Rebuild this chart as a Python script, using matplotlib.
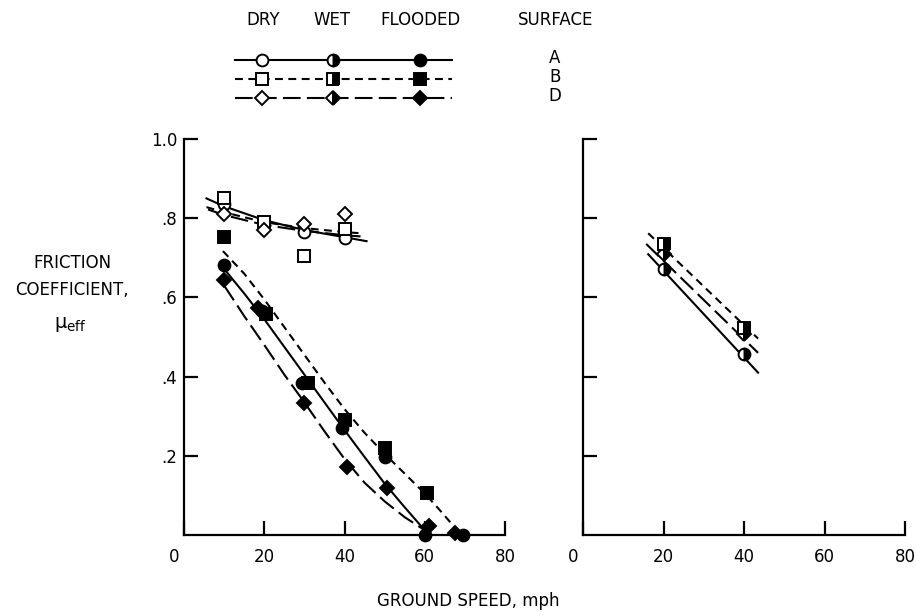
import matplotlib
matplotlib.use("Agg")
import matplotlib.pyplot as plt
from matplotlib.lines import Line2D
from matplotlib.transforms import ScaledTranslation

plt.rcParams["font.family"] = ["DejaVu Sans"]
plt.rcParams["mathtext.fontset"] = "dejavusans"

# --- measured points: speed (mph) and effective friction coefficient ---
speed_dry = [10, 20, 30, 40]
mu_dry_A = [0.835, 0.79, 0.765, 0.75]
mu_dry_B = [0.85, 0.79, 0.705, 0.772]
mu_dry_D = [0.81, 0.77, 0.785, 0.81]

speed_fl_A = [10, 19.5, 29.5, 39.5, 50, 60, 69.5]
mu_fl_A = [0.683, 0.565, 0.385, 0.27, 0.197, 0.0, 0.0]
speed_fl_B = [10, 20.5, 31, 40, 50, 60.5]
mu_fl_B = [0.752, 0.558, 0.383, 0.29, 0.22, 0.105]
speed_fl_D = [10, 18.5, 30, 40.5, 50.5, 61, 67.5]
mu_fl_D = [0.644, 0.572, 0.334, 0.172, 0.118, 0.022, 0.004]

speed_wet = [20, 40]
mu_wet_A = [0.672, 0.458]
mu_wet_B = [0.735, 0.523]
mu_wet_D = [0.71, 0.508]

# --- faired curves ---
fit_dry_A_v = [5.6, 10, 20, 30, 40, 45.5]
fit_dry_A = [0.85, 0.83, 0.795, 0.77, 0.752, 0.742]
fit_dry_B_v = [5.6, 10, 20, 30, 40, 44]
fit_dry_B = [0.828, 0.815, 0.79, 0.775, 0.765, 0.762]
fit_dry_D_v = [6, 10, 20, 30, 40, 44]
fit_dry_D = [0.822, 0.808, 0.783, 0.768, 0.757, 0.754]

fit_fl_A_v = [10, 15, 20, 25, 30, 35, 40, 45, 50, 55, 60]
fit_fl_A = [0.672, 0.61, 0.545, 0.475, 0.405, 0.335, 0.265, 0.197, 0.13, 0.07, 0.012]
fit_fl_B_v = [9.7, 15, 20, 25, 30, 35, 40, 45, 50, 55, 60, 64, 68]
fit_fl_B = [0.717, 0.66, 0.595, 0.525, 0.455, 0.385, 0.318, 0.258, 0.205, 0.155,
            0.105, 0.06, 0.013]
fit_fl_D_v = [10, 15, 20, 25, 30, 35, 40, 45, 50, 55, 60]
fit_fl_D = [0.63, 0.553, 0.48, 0.405, 0.335, 0.262, 0.192, 0.132, 0.085, 0.045, 0.012]

fit_wet_A_v = [16.2, 43.5]
fit_wet_A = [0.709, 0.41]
fit_wet_B_v = [16.2, 43.5]
fit_wet_B = [0.762, 0.496]
fit_wet_D_v = [15.7, 43.5]
fit_wet_D = [0.735, 0.46]

x_ticks = [0, 20, 40, 60, 80]
y_ticks = [0.2, 0.4, 0.6, 0.8, 1.0]
y_tick_labels = [".2", ".4", ".6", ".8", "1.0"]

# --- styles per surface ---
LW = 1.5
SHORT = (0, (3.8, 2.6))
LONG = (0, (8.5, 3.0))
surf_style = {"A": ("-", "o", 8.5), "B": (SHORT, "s", 8), "D": (LONG, "D", 7.5)}


def marker_kw(cond, size):
    kw = dict(markersize=size, markeredgecolor="k", markeredgewidth=1.4)
    if cond == "dry":
        kw.update(markerfacecolor="white")
    elif cond == "flooded":
        kw.update(markerfacecolor="k")
    else:
        kw.update(markerfacecolor="k", fillstyle="right", markerfacecoloralt="white")
    return kw


def curve(ax, v, mu, surf):
    ax.plot(v, mu, color="k", lw=LW, linestyle=surf_style[surf][0], zorder=2)


def points(ax, v, mu, surf, cond):
    mk, size = surf_style[surf][1], surf_style[surf][2]
    ax.plot(v, mu, linestyle="none", marker=mk, clip_on=False, zorder=3,
            **marker_kw(cond, size))


def style_axes(ax, labels):
    ax.set_xlim(0, 80)
    ax.set_ylim(0, 1.0)
    for s in ("top", "right"):
        ax.spines[s].set_visible(False)
    for s in ("left", "bottom"):
        ax.spines[s].set_linewidth(1.6)
    ax.set_xticks(x_ticks)
    ax.set_xticklabels([str(t) for t in x_ticks])
    ax.set_yticks(y_ticks)
    ax.set_yticklabels(y_tick_labels if labels else [])
    ax.tick_params(direction="in", length=10, width=1.6, labelsize=12)
    ax.tick_params(axis="x", pad=9)
    ax.tick_params(axis="y", pad=5)
    lab0 = ax.get_xticklabels()[0]
    lab0.set_transform(lab0.get_transform() +
                       ScaledTranslation(-0.1, 0, ax.figure.dpi_scale_trans))


fig = plt.figure(figsize=(9.16, 6.15), dpi=100)
ax1 = fig.add_axes([184 / 916, 80 / 615, 321 / 916, 396 / 615])
ax2 = fig.add_axes([583 / 916, 80 / 615, 322 / 916, 396 / 615])

# left panel: dry and flooded
curve(ax1, fit_dry_A_v, fit_dry_A, "A")
curve(ax1, fit_dry_B_v, fit_dry_B, "B")
curve(ax1, fit_dry_D_v, fit_dry_D, "D")
curve(ax1, fit_fl_A_v, fit_fl_A, "A")
curve(ax1, fit_fl_B_v, fit_fl_B, "B")
curve(ax1, fit_fl_D_v, fit_fl_D, "D")
points(ax1, speed_dry, mu_dry_A, "A", "dry")
points(ax1, speed_dry, mu_dry_B, "B", "dry")
points(ax1, speed_dry, mu_dry_D, "D", "dry")
points(ax1, speed_fl_D, mu_fl_D, "D", "flooded")
points(ax1, speed_fl_B, mu_fl_B, "B", "flooded")
points(ax1, speed_fl_A, mu_fl_A, "A", "flooded")
style_axes(ax1, True)

# right panel: wet
curve(ax2, fit_wet_A_v, fit_wet_A, "A")
curve(ax2, fit_wet_B_v, fit_wet_B, "B")
curve(ax2, fit_wet_D_v, fit_wet_D, "D")
points(ax2, speed_wet, mu_wet_A, "A", "wet")
points(ax2, speed_wet, mu_wet_D, "D", "wet")
points(ax2, speed_wet, mu_wet_B, "B", "wet")
style_axes(ax2, False)

# y label block and x label
fig.text(72 / 916, 1 - 263 / 615, "FRICTION", ha="center", va="center", fontsize=12)
fig.text(72 / 916, 1 - 290 / 615, "COEFFICIENT,", ha="center", va="center", fontsize=12)
fig.text(70 / 916, 1 - 325 / 615, r"$\mathregular{\mu_{eff}}$", ha="center",
         va="center", fontsize=14)
fig.text(468 / 916, 1 - 601 / 615, "GROUND SPEED, mph", ha="center", va="center",
         fontsize=12)

# key at the top, drawn in figure pixels
key = fig.add_axes([0, 0, 1, 1], zorder=-1)
key.set_xlim(0, 916)
key.set_ylim(615, 0)
key.axis("off")
for txt, xc in [("DRY", 263), ("WET", 332), ("FLOODED", 421), ("SURFACE", 556)]:
    key.text(xc, 20, txt, ha="center", va="center", fontsize=12)
for surf, yk in [("A", 60), ("B", 79), ("D", 98)]:
    ls, mk, size = surf_style[surf]
    key.add_line(Line2D([235, 452], [yk, yk], color="k", lw=LW, linestyle=ls))
    for cond, xk in [("dry", 262), ("wet", 333), ("flooded", 420)]:
        key.add_line(Line2D([xk], [yk], linestyle="none", marker=mk, **marker_kw(cond, size)))
    key.text(555, yk - 2, surf, ha="center", va="center", fontsize=12)

fig.savefig("out.png", dpi=100)
